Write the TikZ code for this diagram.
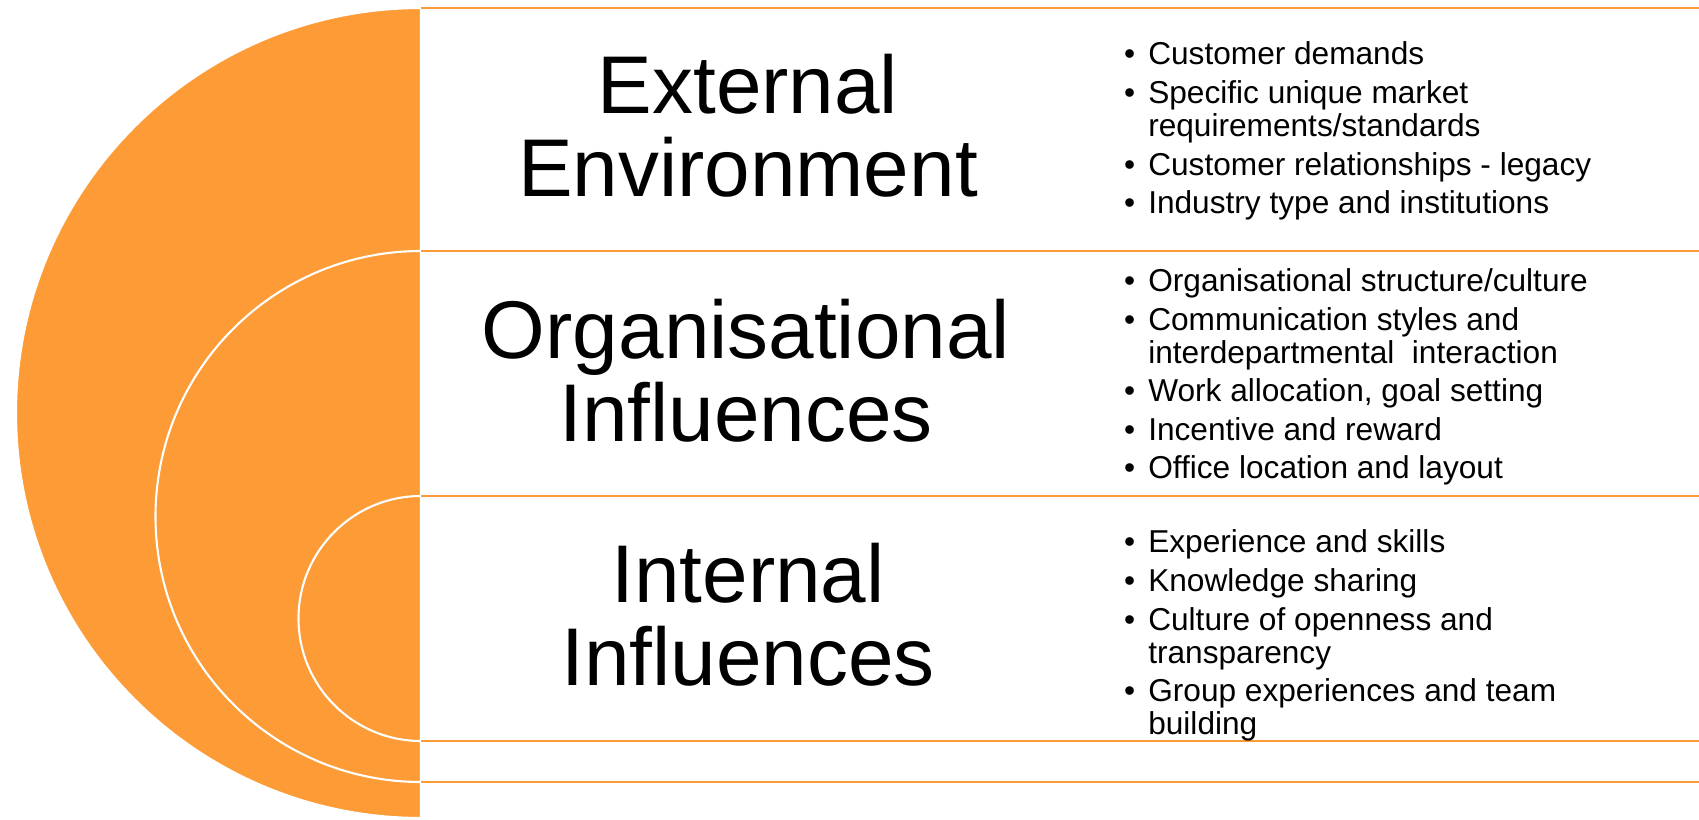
\documentclass[tikz,border=0pt]{standalone}
\usepackage{fontspec}
\setmainfont{Liberation Sans}
\usepackage{tikz}

\definecolor{ringorange}{RGB}{253,155,55}
\tikzset{
  ring/.style={fill=ringorange, draw=white, line width=0.6pt},
  rule/.style={draw=ringorange, line width=0.6pt},
  layer/.style={align=center, font=\fontsize{23.3pt}{23.7pt}\selectfont},
  items/.style={anchor=base west, inner sep=0pt, font=\fontsize{9pt}{9.4pt}\selectfont}
}

\begin{document}
\begin{tikzpicture}
	\useasboundingbox (0,0) rectangle (16.99,8.19);

	\coordinate (outer) at (4.21,4.06);
	\coordinate (middle) at (4.21,3.025);
	\coordinate (inner) at (4.21,2.005);

	\filldraw[ring] (outer) ++(0,4.05) arc[start angle=90, end angle=270, radius=4.05] -- cycle;
	\filldraw[ring] (middle) ++(0,2.655) arc[start angle=90, end angle=270, radius=2.655] -- cycle;
	\filldraw[ring] (inner) ++(0,1.225) arc[start angle=90, end angle=270, radius=1.225] -- cycle;

	\foreach \y in {8.11,5.68,3.23,0.78,0.37}
		\draw[rule] (4.21,\y) -- (16.99,\y);

	\node[layer] (ext) at (7.48,6.934) {External\\Environment};
	\node[layer] (org) at (7.46,4.48) {Organisational\\Influences};
	\node[layer] (int) at (7.48,2.04) {Internal\\Influences};

	\node[items] (extlist) at (11.235,7.54) {\begin{tabular}[t]{@{}l@{\hspace{0.13cm}}l@{}}
		\textbullet & Customer demands\\[1.56pt]
		\textbullet & Specific unique market\\
		            & requirements/standards\\[1.56pt]
		\textbullet & Customer relationships - legacy\\[1.56pt]
		\textbullet & Industry type and institutions
	\end{tabular}};

	\node[items] (orglist) at (11.235,5.275) {\begin{tabular}[t]{@{}l@{\hspace{0.13cm}}l@{}}
		\textbullet & Organisational structure/culture\\[1.56pt]
		\textbullet & Communication styles and\\
		            & interdepartmental~ interaction\\[1.56pt]
		\textbullet & Work allocation, goal setting\\[1.56pt]
		\textbullet & Incentive and reward\\[1.56pt]
		\textbullet & Office location and layout
	\end{tabular}};

	\node[items] (intlist) at (11.235,2.66) {\begin{tabular}[t]{@{}l@{\hspace{0.13cm}}l@{}}
		\textbullet & Experience and skills\\[1.56pt]
		\textbullet & Knowledge sharing\\[1.56pt]
		\textbullet & Culture of openness and\\
		            & transparency\\[1.56pt]
		\textbullet & Group experiences and team\\
		            & building
	\end{tabular}};
\end{tikzpicture}
\end{document}
